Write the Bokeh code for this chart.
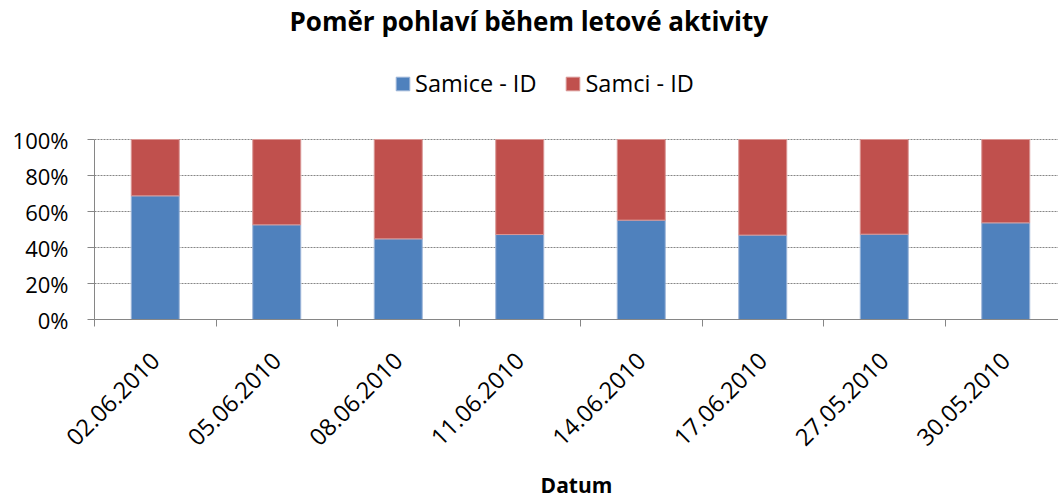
import math
from bokeh.plotting import figure
from bokeh.models import (Range1d, FixedTicker, NumeralTickFormatter, ColumnDataSource,
                          Legend, LegendItem)
from bokeh.embed import file_html
from bokeh.resources import INLINE

# ---- data ----
dates = ["02.06.2010", "05.06.2010", "08.06.2010", "11.06.2010",
         "14.06.2010", "17.06.2010", "27.05.2010", "30.05.2010"]
samice = [0.687, 0.526, 0.448, 0.472, 0.552, 0.469, 0.474, 0.537]
samci = [1 - v for v in samice]
y_ticks = [0, 0.2, 0.4, 0.6, 0.8, 1.0]

FONT = "Open Sans"
BLUE = "#4F81BD"
RED = "#C0504D"
GRID = "#868686"

n = len(dates)
centers = [i + 0.5 for i in range(n)]
src = ColumnDataSource(dict(x=centers, samice=samice, samci=samci,
                            top=[a + b for a, b in zip(samice, samci)]))

FW, FH = 964, 280
PLOT_H = 180            # pixel height of the 0..100% part
left_border = 94
unit = 121.5
x_end = FW / unit
y_end = 1 + (FH - PLOT_H) / PLOT_H

p = figure(frame_width=FW, frame_height=FH, output_backend="svg", toolbar_location=None,
           x_range=Range1d(0, x_end), y_range=Range1d(0, y_end),
           title="Poměr pohlaví během letové aktivity",
           min_border_left=left_border, min_border_right=0, min_border_top=0,
           min_border_bottom=0)
p.outline_line_color = None
p.background_fill_color = "white"
p.border_fill_color = "white"

p.title.text_font = FONT
p.title.text_font_size = "26px"
p.title.text_font_style = "bold"
p.title.align = "left"
p.title.offset = 195
p.title.standoff = 1
p.title.text_color = "black"

r1 = p.vbar(x="x", width=0.395, bottom=0, top="samice", source=src,
            fill_color=BLUE, line_color="#9DB5D8", line_width=1)
r2 = p.vbar(x="x", width=0.395, bottom="samice", top="top", source=src,
            fill_color=RED, line_color="#D99694", line_width=1)

# x axis
xa = p.xaxis[0]
xa.ticker = FixedTicker(ticks=centers, minor_ticks=list(range(n + 1)))
xa.major_label_overrides = {c: d for c, d in zip(centers, dates)}
xa.major_label_orientation = math.pi / 4
xa.major_tick_line_color = None
xa.minor_tick_in = 0
xa.minor_tick_out = 7
xa.minor_tick_line_color = GRID
xa.axis_line_color = GRID
xa.major_label_text_font = FONT
xa.major_label_text_font_size = "23.5px"
xa.major_label_text_color = "black"
xa.major_label_standoff = 30
xa.axis_label = "Datum"
xa.axis_label_text_font = FONT
xa.axis_label_text_font_style = "bold"
xa.axis_label_text_font_size = "21px"
xa.axis_label_text_color = "black"
xa.axis_label_standoff = 15

# y axis
ya = p.yaxis[0]
ya.ticker = FixedTicker(ticks=y_ticks)
ya.bounds = (0, 1)
ya.formatter = NumeralTickFormatter(format="0%")
ya.minor_tick_line_color = None
ya.major_tick_in = 0
ya.major_tick_out = 7
ya.major_tick_line_color = GRID
ya.axis_line_color = GRID
ya.major_label_text_font = FONT
ya.major_label_text_font_size = "22px"
ya.major_label_text_color = "black"
ya.major_label_standoff = 19

p.xgrid.grid_line_color = None
p.ygrid.grid_line_color = GRID
p.ygrid.grid_line_dash = "2 1"
p.ygrid.grid_line_width = 1

legend = Legend(items=[LegendItem(label="Samice - ID", renderers=[r1]),
                       LegendItem(label="Samci - ID", renderers=[r2])],
                orientation="horizontal", location=(300, 220))
legend.label_text_font = FONT
legend.label_text_font_size = "23.5px"
legend.label_text_color = "black"
legend.glyph_width = 17
legend.glyph_height = 17
legend.label_standoff = 4
legend.spacing = 28
legend.padding = 0
legend.margin = 0
legend.border_line_color = None
legend.background_fill_alpha = 0
p.add_layout(legend)

open("out.html", "w").write(file_html(p, INLINE))
